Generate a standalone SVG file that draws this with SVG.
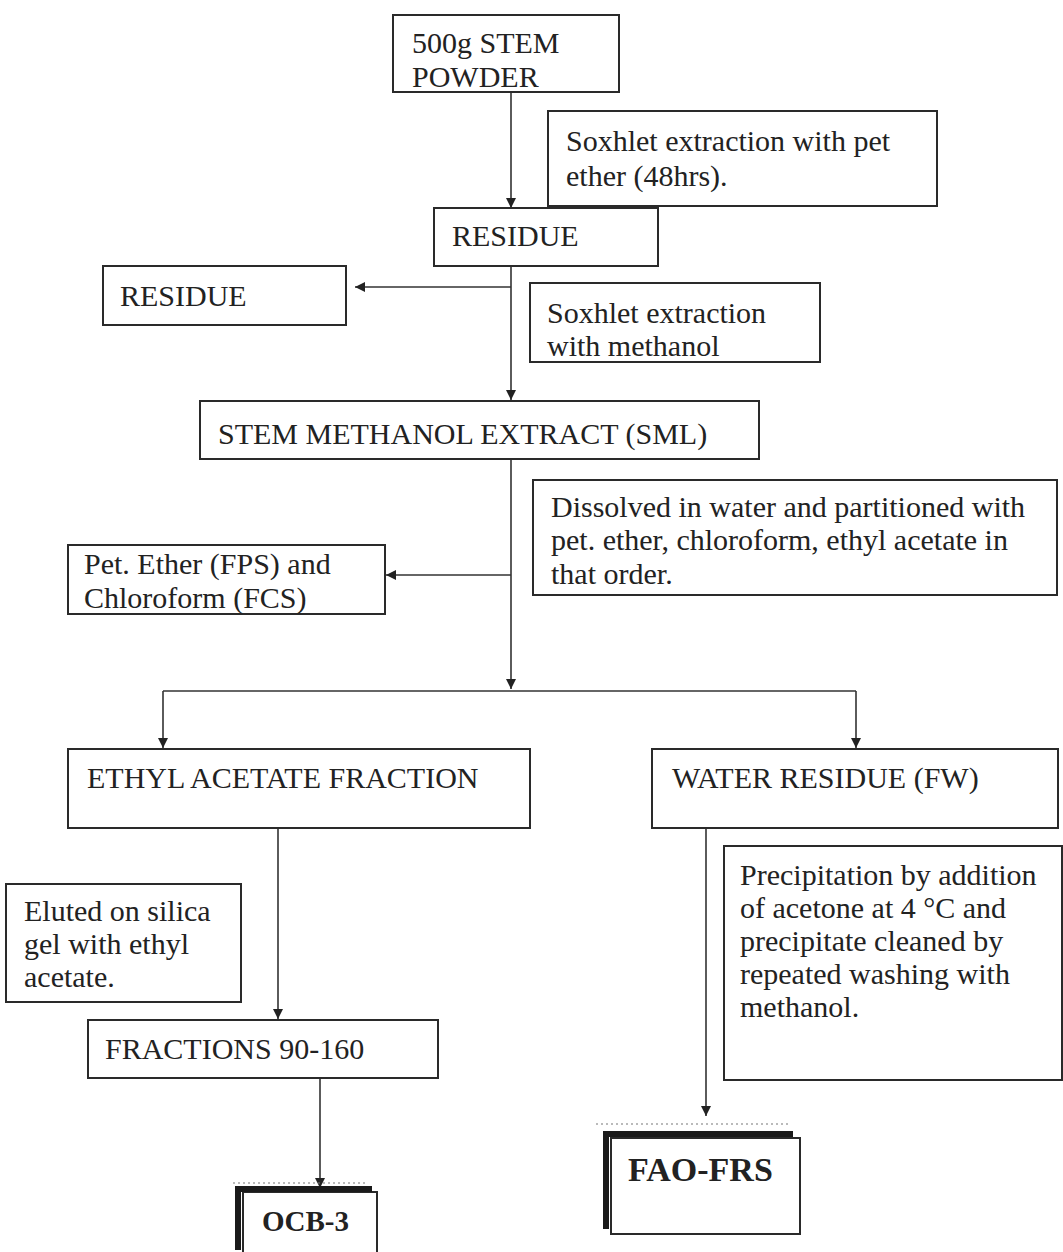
<svg xmlns="http://www.w3.org/2000/svg" width="1063" height="1252" viewBox="0 0 1063 1252">
<defs>
<style>
.box{fill:#fff;stroke:#2a2a2a;stroke-width:2}
.t{font-family:"Liberation Serif","Times New Roman",serif;font-size:30px;fill:#222}
.b{font-family:"Liberation Serif","Times New Roman",serif;font-weight:bold;fill:#222}
.ln{stroke:#333;stroke-width:1.6;fill:none}
.thick{stroke:#1a1a1a;stroke-width:6;fill:none}
.dot{stroke:#777;stroke-width:1.2;stroke-dasharray:2 3;fill:none}
</style>
<marker id="ah" viewBox="0 0 10 10" refX="10" refY="5" markerWidth="10" markerHeight="10" markerUnits="userSpaceOnUse" orient="auto">
<path d="M0,0 L10,5 L0,10 z" fill="#222"/>
</marker>
</defs>
<rect width="1063" height="1252" fill="#fff"/>

<g id="connectors">
<line class="ln" x1="511" y1="92" x2="511" y2="208" marker-end="url(#ah)"/>
<line class="ln" x1="511" y1="266" x2="511" y2="400" marker-end="url(#ah)"/>
<line class="ln" x1="511" y1="287" x2="355" y2="287" marker-end="url(#ah)"/>
<line class="ln" x1="511" y1="460" x2="511" y2="689" marker-end="url(#ah)"/>
<line class="ln" x1="511" y1="575" x2="386" y2="575" marker-end="url(#ah)"/>
<line class="ln" x1="163" y1="691" x2="856" y2="691"/>
<line class="ln" x1="163" y1="691" x2="163" y2="748" marker-end="url(#ah)"/>
<line class="ln" x1="856" y1="691" x2="856" y2="748" marker-end="url(#ah)"/>
<line class="ln" x1="278" y1="828" x2="278" y2="1019" marker-end="url(#ah)"/>
<line class="ln" x1="320" y1="1078" x2="320" y2="1188" marker-end="url(#ah)"/>
<line class="ln" x1="706" y1="828" x2="706" y2="1116" marker-end="url(#ah)"/>
</g>

<g id="n-stem-powder">
<rect class="box" x="393" y="15" width="226" height="77"/>
<text class="t" x="412" y="53">500g STEM</text>
<text class="t" x="412" y="87">POWDER</text>
</g>

<g id="n-soxhlet-pet">
<rect class="box" x="548" y="111" width="389" height="95"/>
<text class="t" x="566" y="151">Soxhlet extraction with pet</text>
<text class="t" x="566" y="186">ether (48hrs).</text>
</g>

<g id="n-residue">
<rect class="box" x="434" y="208" width="224" height="58"/>
<text class="t" x="452" y="246">RESIDUE</text>
</g>

<g id="n-residue-left">
<rect class="box" x="103" y="266" width="243" height="59"/>
<text class="t" x="120" y="306">RESIDUE</text>
</g>

<g id="n-soxhlet-methanol">
<rect class="box" x="530" y="283" width="290" height="79"/>
<text class="t" x="547" y="323">Soxhlet extraction</text>
<text class="t" x="547" y="356">with methanol</text>
</g>

<g id="n-sml">
<rect class="box" x="200" y="401" width="559" height="58"/>
<text class="t" x="218" y="444">STEM METHANOL EXTRACT (SML)</text>
</g>

<g id="n-dissolved">
<rect class="box" x="533" y="480" width="524" height="115"/>
<text class="t" x="551" y="517">Dissolved in water and partitioned with</text>
<text class="t" x="551" y="550">pet. ether, chloroform, ethyl acetate in</text>
<text class="t" x="551" y="584">that order.</text>
</g>

<g id="n-pet-ether">
<rect class="box" x="68" y="545" width="317" height="69"/>
<text class="t" x="84" y="574">Pet. Ether (FPS) and</text>
<text class="t" x="84" y="608">Chloroform (FCS)</text>
</g>

<g id="n-ethyl">
<rect class="box" x="68" y="749" width="462" height="79"/>
<text class="t" x="87" y="788">ETHYL ACETATE FRACTION</text>
</g>

<g id="n-water">
<rect class="box" x="652" y="749" width="406" height="79"/>
<text class="t" x="672" y="788">WATER RESIDUE (FW)</text>
</g>

<g id="n-eluted">
<rect class="box" x="6" y="884" width="235" height="118"/>
<text class="t" x="24" y="921">Eluted on silica</text>
<text class="t" x="24" y="954">gel with ethyl</text>
<text class="t" x="24" y="987">acetate.</text>
</g>

<g id="n-precip">
<rect class="box" x="724" y="846" width="338" height="234"/>
<text class="t" x="740" y="885">Precipitation by addition</text>
<text class="t" x="740" y="918">of acetone at 4 °C and</text>
<text class="t" x="740" y="951">precipitate cleaned by</text>
<text class="t" x="740" y="984">repeated washing with</text>
<text class="t" x="740" y="1017">methanol.</text>
</g>

<g id="n-fractions">
<rect class="box" x="88" y="1020" width="350" height="58"/>
<text class="t" x="105" y="1059">FRACTIONS 90-160</text>
</g>

<g id="n-ocb3">
<line class="dot" x1="233" y1="1183" x2="366" y2="1183"/>
<rect class="box" x="243" y="1192" width="134" height="70"/>
<path class="thick" d="M238,1250 V1189 H372"/>
<text class="b" x="262" y="1231" font-size="29">OCB-3</text>
</g>

<g id="n-fao">
<line class="dot" x1="596" y1="1124" x2="788" y2="1124"/>
<rect class="box" x="611" y="1138" width="189" height="96"/>
<path class="thick" d="M606,1229 V1134 H793"/>
<text class="b" x="628" y="1181" font-size="34">FAO-FRS</text>
</g>
</svg>
